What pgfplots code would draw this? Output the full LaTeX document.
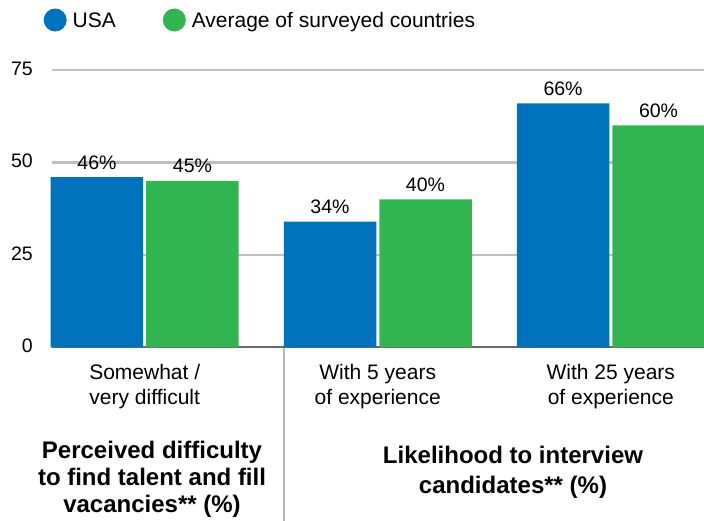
\documentclass[border=0pt]{standalone}
\usepackage{pgfplots}
\pgfplotsset{compat=1.18}
\usepackage{fontspec}
\setmainfont{Liberation Sans}
\definecolor{usablue}{RGB}{0,114,188}
\definecolor{avggreen}{RGB}{51,180,82}
\definecolor{gridgray}{RGB}{191,191,191}
\definecolor{zerogray}{RGB}{105,105,105}
\definecolor{sepgray}{RGB}{185,185,185}
\begin{document}
\begin{tikzpicture}
\path[use as bounding box] (0,0) rectangle (704bp,521bp);
\begin{axis}[
    at={(51.5bp,173.7bp)}, anchor=south west,
    scale only axis, width=652.5bp, height=277.3bp,
    xmin=-0.4, xmax=2.4, ymin=0, ymax=75,
    ytick={25,50,75},
    extra y ticks={0},
    extra y tick style={major grid style={zerogray, line width=2bp}},
    ymajorgrids,
    major grid style={gridgray, line width=2.5bp},
    axis line style={draw=none}, tick style={draw=none},
    xtick={0,1,2},
    xticklabels={Somewhat /\\very difficult, With 5 years\\of experience, With 25 years\\of experience},
    xticklabel style={align=center, anchor=north, inner sep=0pt, yshift=-13bp,
        font=\fontsize{21bp}{25bp}\selectfont},
    yticklabel style={anchor=east, inner sep=0pt, xshift=-18.5bp, yshift=1.5bp,
        font=\fontsize{19.5bp}{23bp}\selectfont},
    /pgf/number format/assume math mode=true,
    clip=false,
    ybar=3bp, bar width=92.5bp,
    nodes near coords={\pgfmathprintnumber{\pgfplotspointmeta}\%},
    every node near coord/.append style={anchor=base, yshift=8bp, inner sep=0pt,
        font=\fontsize{19.5bp}{23bp}\selectfont, text=black},
    legend columns=2,
    legend image code/.code={\fill[#1] (11.5bp,0.5bp) circle (11.5bp);
        \path (0bp,0bp) -- (27bp,0bp);},
    legend style={at={(axis description cs:-0.0123,1.1803)}, anchor=west,
        draw=none, fill=none, inner sep=0pt,
        font=\fontsize{21bp}{24bp}\selectfont,
        /tikz/every even column/.append style={column sep=45bp}},
]
\addplot[fill=usablue, draw=none] coordinates {(0,46) (1,34) (2,66)};
\addplot[fill=avggreen, draw=none] coordinates {(0,45) (1,40) (2,60)};
\legend{USA, Average of surveyed countries}
\end{axis}
\draw[sepgray, line width=2bp] (284bp,0) -- (284bp,172.7bp);
\node[align=center, anchor=base, inner sep=0pt,
    font=\bfseries\fontsize{24bp}{27bp}\selectfont] at (152bp,8.7bp)
    {Perceived difficulty\\to find talent and fill\\vacancies** (\%)};
\node[align=center, anchor=base, inner sep=0pt,
    font=\bfseries\fontsize{24bp}{30bp}\selectfont] at (513bp,27.7bp)
    {Likelihood to interview\\candidates** (\%)};
\end{tikzpicture}
\end{document}
